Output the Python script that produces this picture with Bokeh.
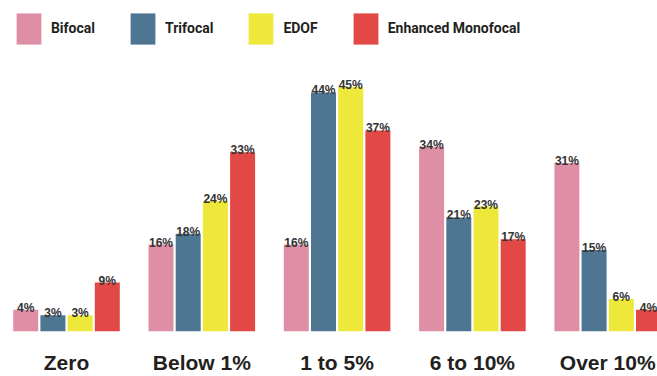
from bokeh.plotting import figure
from bokeh.models import Range1d, FixedTicker, ColumnDataSource, LinearAxis
from bokeh.transform import dodge
from bokeh.embed import file_html
from bokeh.resources import INLINE
from bokeh.core.properties import value

categories = ["Zero", "Below 1%", "1 to 5%", "6 to 10%", "Over 10%"]
series = ["Bifocal", "Trifocal", "EDOF", "Enhanced Monofocal"]
bifocal = [4, 16, 16, 34, 31]
trifocal = [3, 18, 44, 21, 15]
edof = [3, 24, 45, 23, 6]
enhanced = [9, 33, 37, 17, 4]
colors = ["#DE8FA5", "#4E7591", "#EDE83A", "#E24946"]

cols = ["bifocal", "trifocal", "edof", "enhanced"]
data = dict(idx=list(range(len(categories))), cat=categories,
            bifocal=bifocal, trifocal=trifocal, edof=edof, enhanced=enhanced)
for c in cols:
    data[c + "_lbl"] = [f"{v}%" for v in data[c]]
src = ColumnDataSource(data)

p = figure(width=657, height=376, output_backend="svg", toolbar_location=None,
           x_range=Range1d(-0.4878, 4.3681), y_range=Range1d(0, 60.92),
           min_border_left=0, min_border_right=0, min_border_top=0,
           min_border_bottom=43, x_axis_location=None, y_axis_location=None)
p.outline_line_color = None
p.background_fill_color = "white"
p.border_fill_color = "white"
p.grid.grid_line_color = None

step = 0.2010
bar_w = 0.1848
for j, (c, name, color) in enumerate(zip(cols, series, colors)):
    off = (j - 1.5) * step
    p.vbar(x=dodge("idx", off), top=c, width=bar_w, bottom=0, source=src,
           fill_color=color, line_color=None, legend_label=name)
    p.text(x=dodge("idx", off), y=c, text=c + "_lbl", source=src,
           text_align="center", text_baseline="alphabetic", y_offset=-2,
           text_font=value("Liberation Sans"), text_font_style="bold",
           text_font_size="12px", text_color="#333333")

ax = LinearAxis(ticker=FixedTicker(ticks=list(range(len(categories)))),
                major_label_overrides={i: c for i, c in enumerate(categories)},
                axis_line_color=None, major_tick_line_color=None,
                minor_tick_line_color=None, major_tick_out=0, minor_tick_out=0,
                major_tick_in=0, minor_tick_in=0,
                major_label_standoff=19,
                major_label_text_font="Liberation Sans",
                major_label_text_font_style="bold",
                major_label_text_font_size="21px",
                major_label_text_color="#231F20")
p.add_layout(ax, "below")

lg = p.legend[0]
lg.location = (12.9, 283.15)
lg.orientation = "horizontal"
lg.glyph_width = 31
lg.glyph_height = 39
lg.label_standoff = 7
lg.spacing = 32
lg.padding = 0
lg.margin = 0
lg.border_line_color = None
lg.background_fill_alpha = 0
lg.label_text_font = "Roboto"
lg.label_text_font_style = "bold"
lg.label_text_font_size = "14px"
lg.label_text_color = "#231F20"

open("out.html", "w").write(file_html(p, INLINE))
